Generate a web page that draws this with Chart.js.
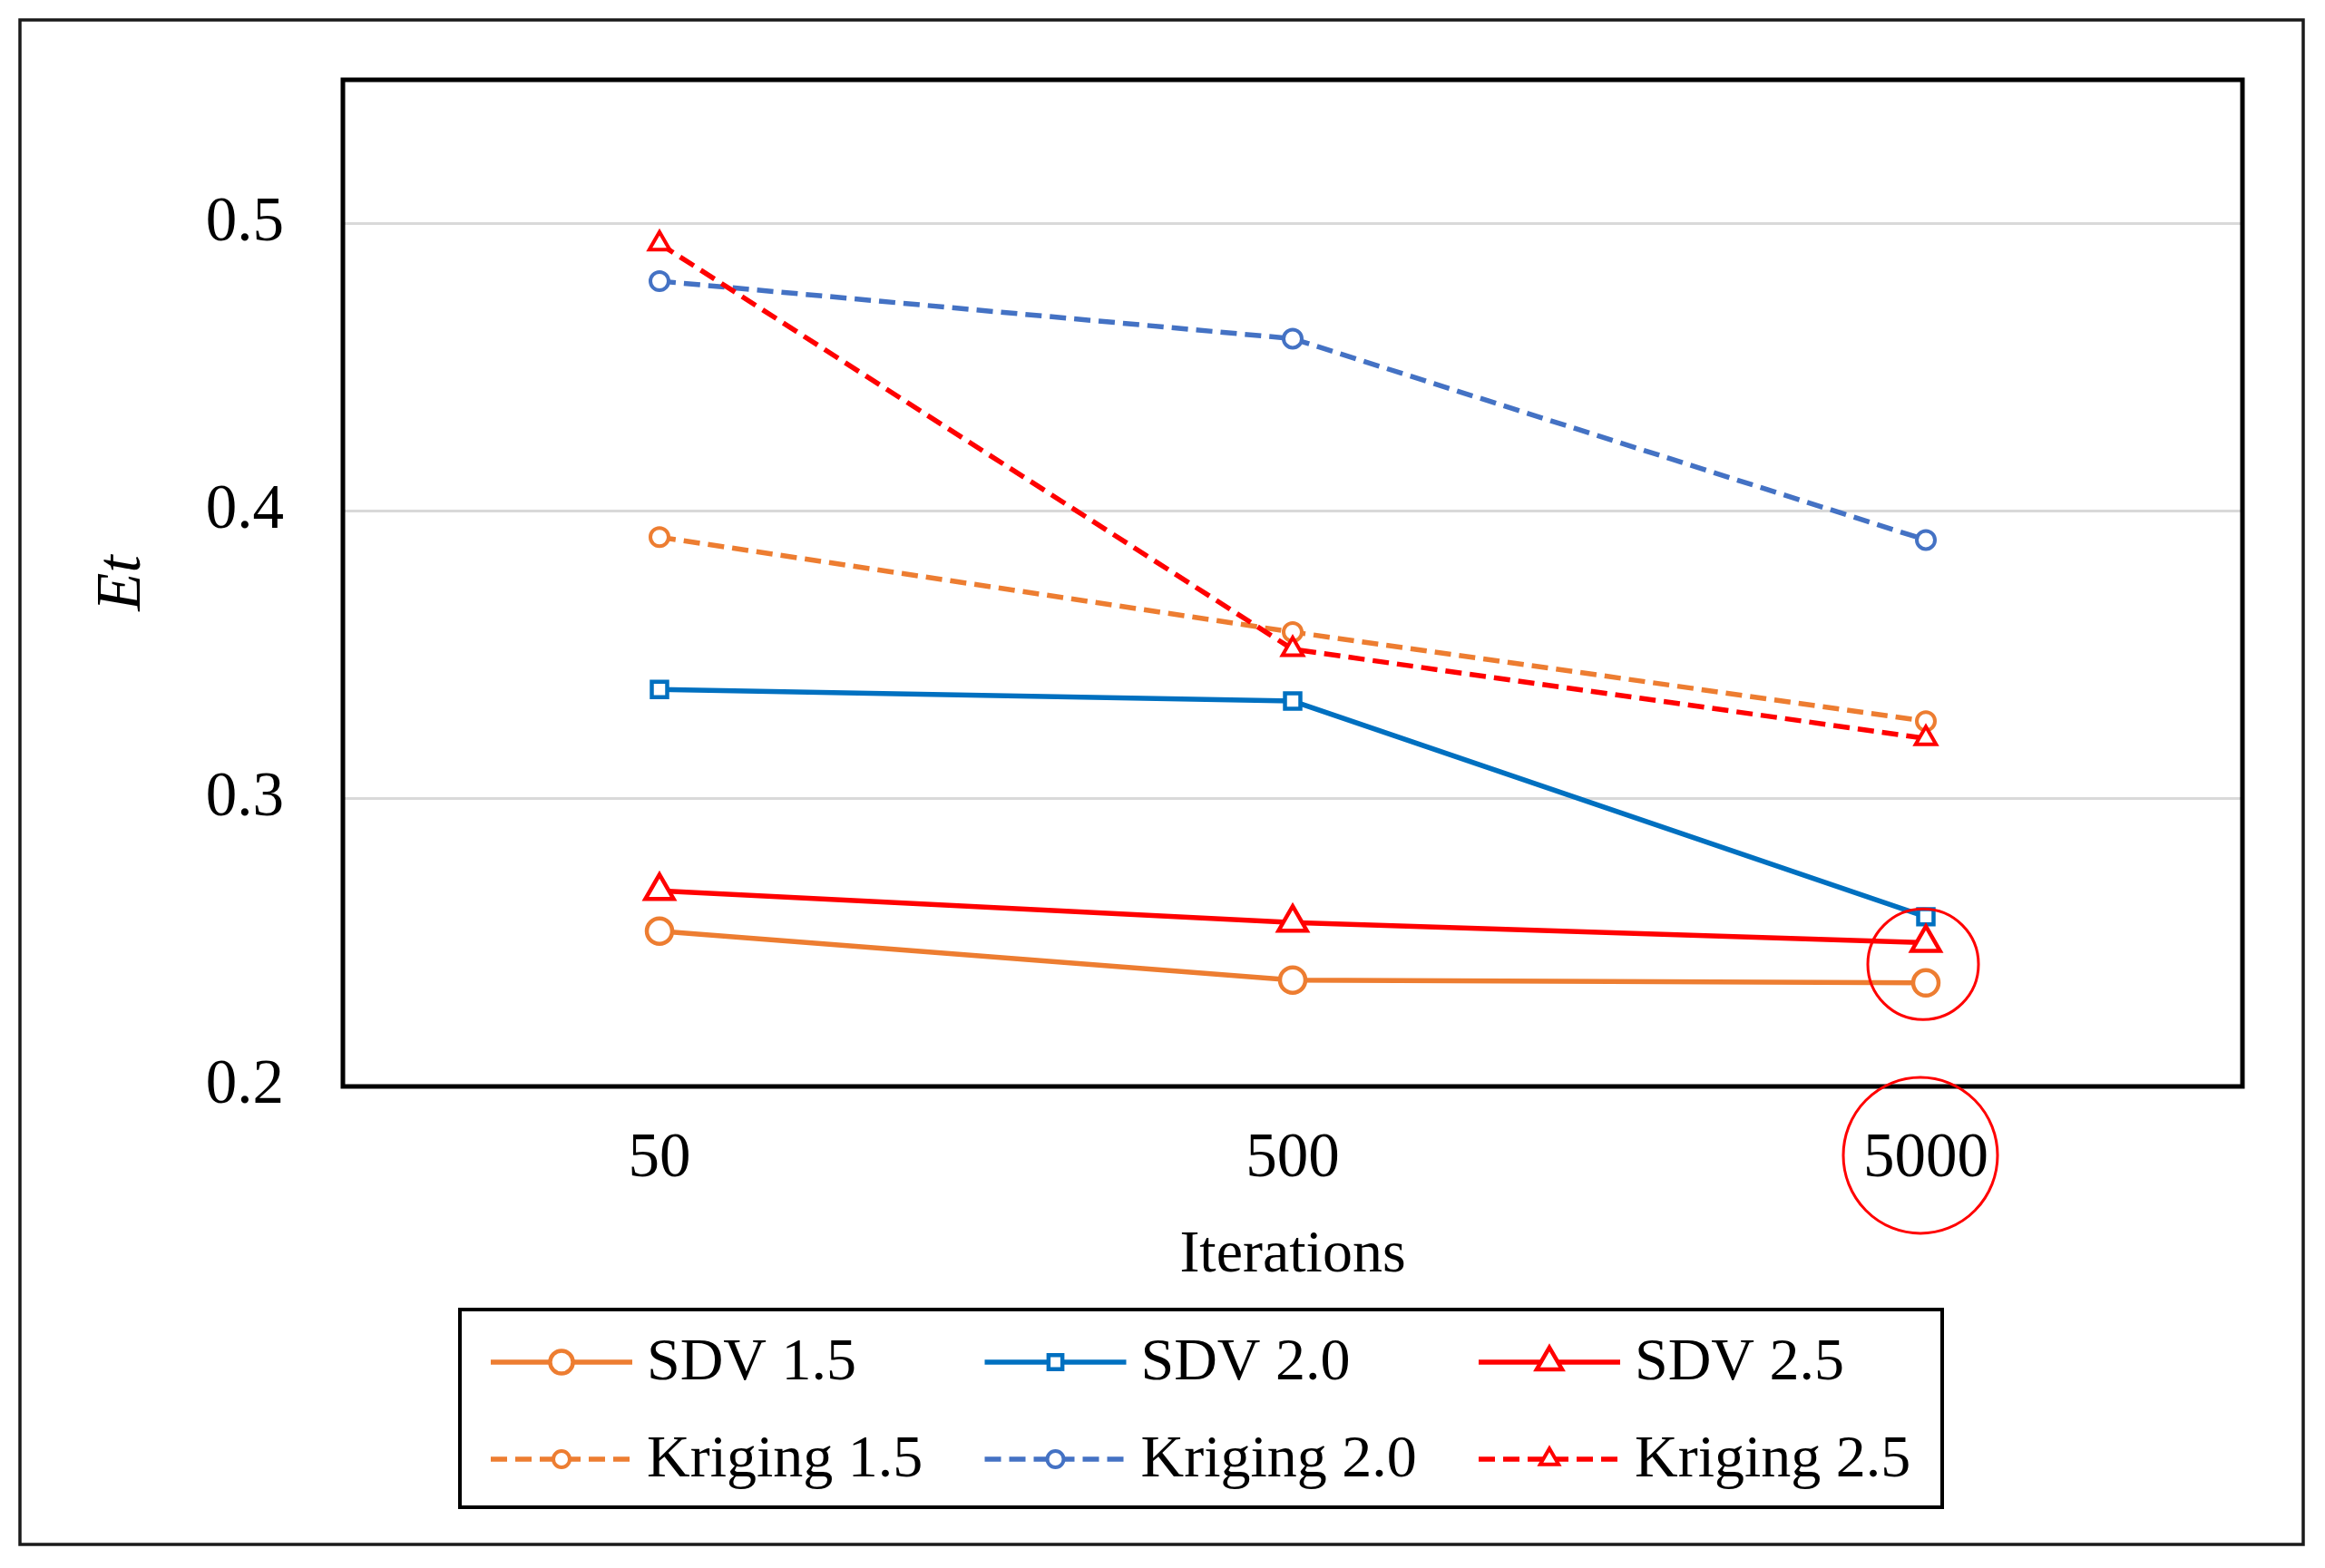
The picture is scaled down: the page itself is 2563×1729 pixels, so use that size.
<!DOCTYPE html>
<html lang="en">
<head>
    <meta charset="utf-8">
    <title>Et vs Iterations</title>
    <script src="https://cdn.jsdelivr.net/npm/chart.js"></script>
    <style>
        body { margin: 0; background: #fff; overflow: hidden; }
        #wrap { position: relative; width: 2563px; height: 1729px; }
    </style>
</head>
<body>
    <div id="wrap"><canvas id="etChart"></canvas></div>

    <script>
        // data
        const iterations = ['50', '500', '5000'];
        const sdv15 = [0.254, 0.237, 0.236];
        const sdv20 = [0.338, 0.334, 0.259];
        const sdv25 = [0.268, 0.257, 0.250];
        const kriging15 = [0.391, 0.358, 0.327];
        const kriging20 = [0.480, 0.460, 0.390];
        const kriging25 = [0.493, 0.352, 0.321];
        const yTicks = [0.2, 0.3, 0.4, 0.5];

        const FONT = 'Liberation Serif';
        const ORANGE = '#ED7D31';
        const BLUE = '#0070C0';
        const BLUE2 = '#4472C4';
        const RED = '#FF0000';
        const DASH = [18, 9];

        const series = (label, data, color, dashed, style, r, bw) => ({
            label: label,
            data: data,
            borderColor: color,
            backgroundColor: '#fff',
            borderWidth: 5.5,
            borderDash: dashed ? DASH : [],
            pointStyle: style,
            pointRadius: r,
            pointBorderWidth: bw,
            pointBackgroundColor: '#fff',
            pointBorderColor: color,
            tension: 0,
            fill: false
        });

        const datasets = [
            series('SDV 1.5', sdv15, ORANGE, false, 'circle', 14, 4.5),
            series('SDV 2.0', sdv20, BLUE, false, 'rect', 12, 4.5),
            series('SDV 2.5', sdv25, RED, false, 'triangle', 18, 4.5),
            series('Kriging 1.5', kriging15, ORANGE, true, 'circle', 10, 4),
            series('Kriging 2.0', kriging20, BLUE2, true, 'circle', 10, 4),
            series('Kriging 2.5', kriging25, RED, true, 'triangle', 13, 4)
        ];
        datasets.forEach((d, i) => { d.order = datasets.length - i; });

        // outer frame + plot border
        const framePlugin = {
            id: 'frame',
            beforeDraw(chart) {
                const ctx = chart.ctx;
                ctx.save();
                ctx.fillStyle = '#fff';
                ctx.fillRect(0, 0, chart.width, chart.height);
                ctx.strokeStyle = '#1a1a1a';
                ctx.lineWidth = 3.5;
                ctx.strokeRect(22, 22, 2517, 1681);
                ctx.restore();
            },
            beforeDatasetsDraw(chart) {
                const a = chart.chartArea;
                const ctx = chart.ctx;
                ctx.save();
                ctx.strokeStyle = '#000';
                ctx.lineWidth = 5;
                ctx.strokeRect(a.left, a.top, a.right - a.left, a.bottom - a.top);
                ctx.restore();
            }
        };

        // boxed legend, 3 columns x 2 rows
        const legendPlugin = {
            id: 'boxLegend',
            afterDraw(chart) {
                const ctx = chart.ctx;
                ctx.save();
                ctx.strokeStyle = '#000';
                ctx.lineWidth = 4;
                ctx.strokeRect(507, 1444, 1634, 218);
                chart.data.datasets.forEach((ds, i) => {
                    const x0 = 541 + (i % 3) * 544.5;
                    const y = 1502 + Math.floor(i / 3) * 107;
                    ctx.strokeStyle = ds.borderColor;
                    ctx.lineWidth = ds.borderWidth;
                    ctx.setLineDash(ds.borderDash);
                    ctx.beginPath();
                    ctx.moveTo(x0, y);
                    ctx.lineTo(x0 + 156, y);
                    ctx.stroke();
                    ctx.setLineDash([]);
                    ctx.fillStyle = '#fff';
                    ctx.lineWidth = ds.pointBorderWidth;
                    Chart.helpers.drawPoint(ctx, {
                        pointStyle: ds.pointStyle,
                        radius: ds.pointRadius * 0.9,
                        borderWidth: ds.pointBorderWidth,
                        rotation: 0
                    }, x0 + 78, y);
                    ctx.fillStyle = '#000';
                    ctx.font = '66px "' + FONT + '"';
                    ctx.textBaseline = 'middle';
                    ctx.textAlign = 'left';
                    ctx.fillText(ds.label, x0 + 172, y + 2);
                });
                ctx.restore();
            }
        };

        // red highlight rings around the 5000 column
        const ringPlugin = {
            id: 'rings',
            afterDraw(chart) {
                const xs = chart.scales.x;
                const ys = chart.scales.y;
                const cx = xs.getPixelForTick(2) - 3;
                const ctx = chart.ctx;
                ctx.save();
                ctx.strokeStyle = RED;
                ctx.lineWidth = 3;
                ctx.beginPath();
                ctx.ellipse(cx, ys.getPixelForValue(0.2425), 61, 61, 0, 0, Math.PI * 2);
                ctx.stroke();
                ctx.beginPath();
                ctx.ellipse(cx - 3, xs.top + 76, 85, 86, 0, 0, Math.PI * 2);
                ctx.stroke();
                ctx.restore();
            }
        };

        new Chart(document.getElementById('etChart'), {
            type: 'line',
            data: { labels: iterations, datasets: datasets },
            plugins: [framePlugin, legendPlugin, ringPlugin],
            options: {
                responsive: true,
                maintainAspectRatio: false,
                devicePixelRatio: 1,
                animation: false,
                layout: { padding: { left: 60, top: 88, right: 91, bottom: 295 } },
                plugins: {
                    legend: { display: false },
                    tooltip: { enabled: false }
                },
                scales: {
                    x: {
                        offset: true,
                        afterFit: (axis) => {
                            axis.height = 236;
                            axis.paddingLeft = 0;
                            axis.paddingRight = 0;
                        },
                        grid: { display: false, drawTicks: false },
                        border: { display: false },
                        ticks: {
                            padding: 39,
                            color: '#000',
                            font: { family: FONT, size: 69 }
                        },
                        title: {
                            display: true,
                            text: 'Iterations',
                            color: '#000',
                            font: { family: FONT, size: 66 },
                            padding: { top: 19, bottom: 10 }
                        }
                    },
                    y: {
                        min: 0.2,
                        max: 0.55,
                        afterBuildTicks: (axis) => { axis.ticks = yTicks.map(v => ({ value: v })); },
                        afterFit: (axis) => {
                            axis.width = 318;
                            axis.paddingTop = 0;
                            axis.paddingBottom = 0;
                        },
                        grid: { color: '#D9D9D9', lineWidth: 3, drawTicks: false },
                        border: { display: false },
                        ticks: {
                            padding: 65,
                            color: '#000',
                            font: { family: FONT, size: 69 },
                            callback: (v) => v.toFixed(1)
                        },
                        title: {
                            display: true,
                            text: 'Et',
                            color: '#000',
                            font: { family: FONT, size: 69, style: 'italic' },
                            padding: { top: 34, bottom: 50 }
                        }
                    }
                }
            }
        });
    </script>
</body>
</html>
